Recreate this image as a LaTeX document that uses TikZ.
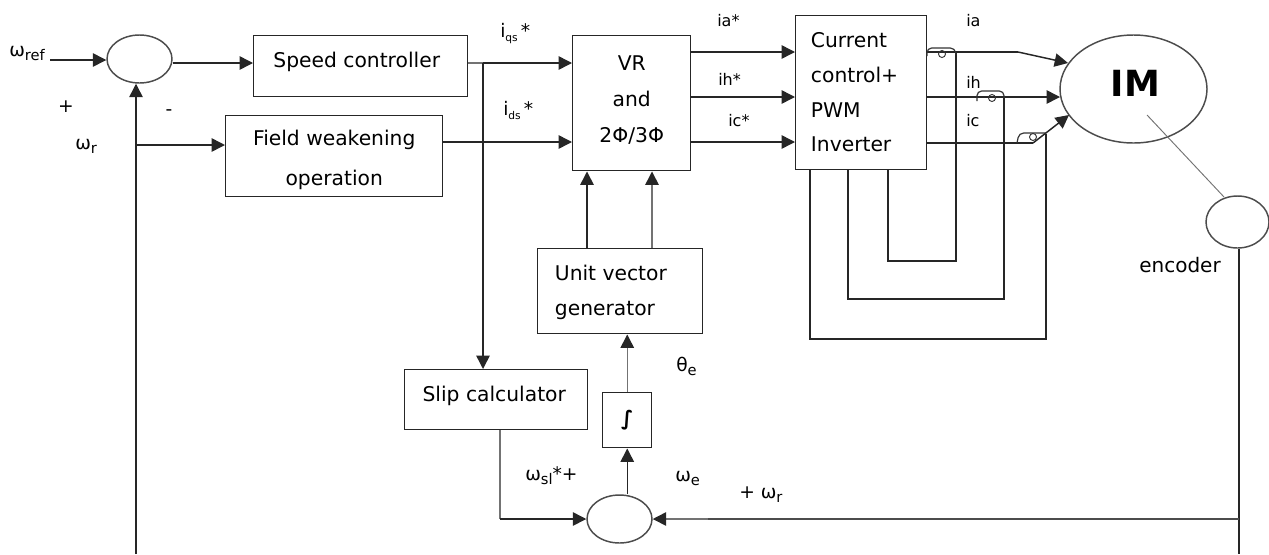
\documentclass[tikz,border=0pt]{standalone}
\usepackage{fontspec}
\setmainfont{DejaVu Sans}
\usetikzlibrary{arrows.meta,calc,shapes.geometric}
\tikzset{
  x=0.75pt,y=-0.75pt,
  wire/.style={line width=1.1pt,draw=black!85},
  gwire/.style={line width=1.1pt,draw=black!55},
  arr/.style={wire,-{Triangle[length=10pt,width=10pt]}},
  garr/.style={gwire,-{Triangle[length=10pt,width=10pt,color=black!85]}},
  blockbox/.style={draw=black!85,line width=1.1pt,fill=white,inner sep=0pt,align=center},
  sumell/.style={draw=black!70,line width=1.1pt,ellipse,inner sep=0pt,fill=white},
  lab/.style={inner sep=0pt,font=\fontsize{14}{16}\selectfont},
  slab/.style={inner sep=0pt,font=\fontsize{12}{14}\selectfont},
  bump/.style={line width=0.9pt,draw=black!80,rounded corners=3.5pt},
}
\newcommand{\bx}[7]{\node[blockbox,font=\fontsize{15.2}{#6}\selectfont,minimum width=#4*0.75pt,minimum height=#5*0.75pt,anchor=north west] (#1) at (#2,#3) {#7};}
\newcommand{\upby}[1]{\rule[-#1]{0pt}{#1}}
\newcommand{\sbs}[1]{\raisebox{-3pt}{\fontsize{11}{12}\selectfont #1}}
\begin{document}
\begin{tikzpicture}
\useasboundingbox (0,0) rectangle (1269,554);
% sums
\node[sumell,minimum width=65*0.75pt,minimum height=48*0.75pt] (s1) at (139.5,59) {};
\node[sumell,minimum width=65*0.75pt,minimum height=48*0.75pt] (s2) at (619.5,519) {};
\node[sumell,minimum width=147*0.75pt,minimum height=108*0.75pt] (im) at (1133.5,89) {};
\node[inner sep=0pt,font=\fontsize{27}{30}\selectfont\bfseries] (imt) at (1135.5,83) {IM};
\node[sumell,minimum width=63*0.75pt,minimum height=52*0.75pt] (enc) at (1237.5,222) {};
% boxes
\bx{sc}{253}{35}{214}{61}{18}{\hspace*{-6pt}Speed controller\upby{10pt}}
\bx{fw}{225}{115}{217}{81}{29.5}{\rule{0pt}{17pt}Field weakening\\operation}
\bx{vr}{572}{35}{118}{135}{27}{VR\\and\\2Φ/3Φ\upby{6pt}}
\bx{cc}{795}{15}{131}{154}{26}{\hspace*{-10pt}\begin{tabular}{@{}l@{}}Current\\control+\\PWM\\Inverter\upby{6pt}\end{tabular}}
\bx{uv}{537}{248}{165}{85}{26}{\hspace*{-14pt}\begin{tabular}{@{}l@{}}Unit vector\\generator\end{tabular}}
\bx{sl}{404}{369}{183}{60}{18}{\hspace*{-3pt}Slip calculator\upby{9pt}}
\bx{in}{602}{392}{49}{55}{18}{\bfseries ∫}
% free coordinates
\coordinate (wrefs) at (50,60);
\coordinate (fbbot) at (136,554);
\coordinate (fbj) at (136,145);
\coordinate (branch) at (483,63);
\coordinate (iabend) at (1018,52);
\coordinate (icbend) at (1033,143);
\coordinate (rbot) at (1239,519);
\coordinate (rend) at (1239,554);
\coordinate (rmid) at (708,519);
\coordinate (enctop) at (1224,197);
\coordinate (imline) at (1147,115);
% forward path
\draw[arr] (wrefs) -- (wrefs -| s1.west);
\draw[arr] (s1.east |- 0,63) -- (sc.west |- 0,63);
\draw[gwire] (sc.east |- 0,63) -- (branch);
\draw[arr] (branch) -- (vr.west |- branch);
\draw[arr] (fbbot) -- (fbbot |- s1.south);
\draw[arr] (fbj) -- (fw.west |- fbj);
\draw[arr] (fw.east |- 0,142) -- (vr.west |- 0,142);
\draw[arr] (branch) -- (branch |- sl.north);
% VR to CC
\draw[arr] (vr.east |- 0,52) -- (cc.west |- 0,52);
\draw[arr] (vr.east |- 0,97) -- (cc.west |- 0,97);
\draw[arr] (vr.east |- 0,142) -- (cc.west |- 0,142);
% CC to IM
\draw[wire] (cc.east |- iabend) -- (iabend);
\draw[arr] (iabend) -- (1068,63);
\draw[arr] (cc.east |- 0,97) -- (1060,97);
\draw[wire] (cc.east |- icbend) -- (icbend);
\draw[arr] (icbend) -- (1069,115);
% feedback loops
\draw[wire] (956,52) -- (956,261) -- (888,261) -- (888,169);
\draw[wire] (1004,97) -- (1004,299) -- (848,299) -- (848,169);
\draw[wire] (1046,134) -- (1046,339) -- (810,339) -- (810,169);
% crossing bumps
\draw[bump] (927,56) -- (927,48) -- (955,48) -- (956,55);
\draw[line width=.7pt,draw=black!80] (942,54) circle (3.5);
\draw[bump] (977,101) -- (977,91) -- (1004,91) -- (1004,98);
\draw[line width=.7pt,draw=black!80] (992,98) circle (3.5);
\draw[bump] (1017,143) -- (1019,133) -- (1046,133);
\draw[line width=.7pt,draw=black!80] (1033,137) circle (3.5);
% encoder
\draw[line width=.7pt,draw=black!55] (imline) -- (enctop);
\draw[wire] (rbot |- enc.south) -- (rend);
\draw[wire,draw=black!70] (rbot) -- (rmid);
\draw[garr] (rmid) -- (s2.east |- rbot);
% lower path
\draw[gwire] (sl.south -| 500,0) -- (500,519);
\draw[arr] (500,519) -- (s2.west);
\draw[arr] (s2.north -| in.south) -- (in.south);
\draw[garr] (in.north) -- (in.north |- uv.south);
\draw[arr] (uv.north -| 587,0) -- (vr.south -| 587,0);
\draw[garr] (uv.north -| 652,0) -- (vr.south -| 652,0);
% labels
\node[lab,anchor=west] (l1) at (9,53) {ω\sbs{ref}};
\node[lab,anchor=center] (l2) at (66,107) {+};
\node[lab,anchor=center] (l3) at (169,113) {-};
\node[lab,anchor=west] (l4) at (75,146) {ω\sbs{r}};
\node[lab,anchor=west] (l5) at (500,34) {i\raisebox{-3pt}{\fontsize{8}{9}\selectfont qs}\,*};
\node[lab,anchor=west] (l6) at (503,110) {i\raisebox{-3pt}{\fontsize{8}{9}\selectfont ds}\,*};
\node[slab,anchor=west] (l7) at (717,21) {ia*};
\node[slab,anchor=west] (l8) at (718,79) {ih*};
\node[slab,anchor=west] (l9) at (728,121) {ic*};
\node[slab,anchor=west] (l10) at (966,21) {ia};
\node[slab,anchor=west] (l11) at (966,82) {ih};
\node[slab,anchor=west] (l12) at (966,121) {ic};
\node[lab,font=\fontsize{15}{16}\selectfont,anchor=center] (l13) at (1180,265) {encoder};
\node[lab,anchor=west] (l14) at (676,366) {θ\sbs{e}};
\node[lab,anchor=west] (l15) at (675,478) {ω\sbs{e}};
\node[lab,anchor=west] (l16) at (525,476) {ω\sbs{sl}*+};
\node[lab,anchor=west] (l17) at (739,495) {+ ω\sbs{r}};
\end{tikzpicture}
\end{document}
